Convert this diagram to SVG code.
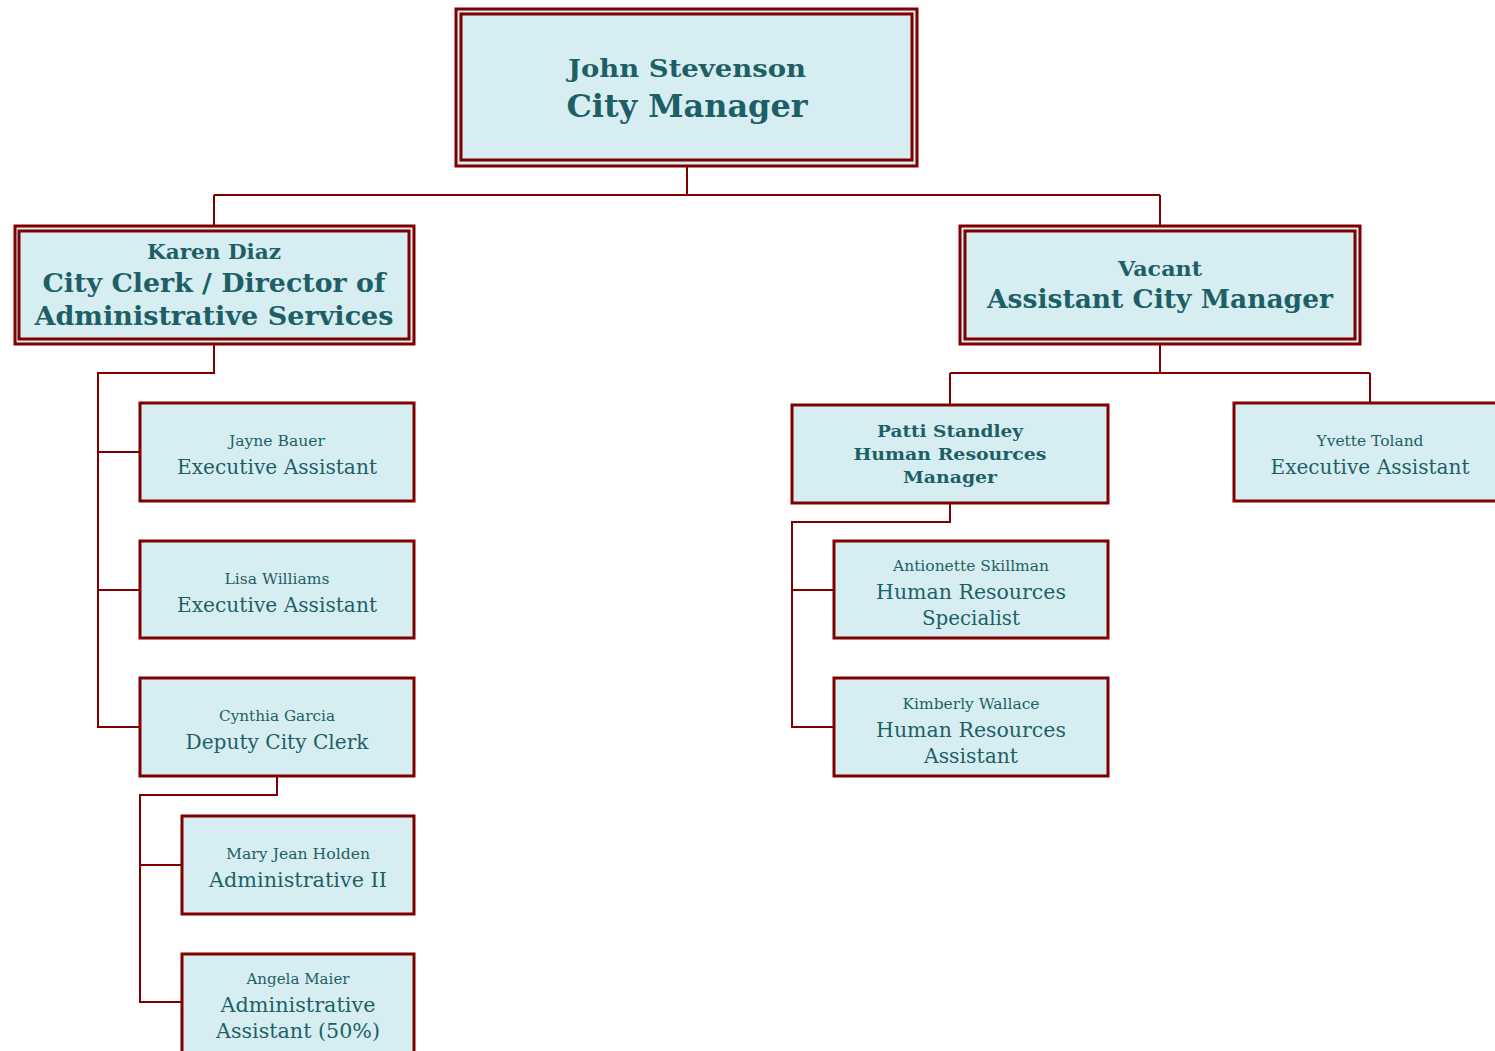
<svg xmlns="http://www.w3.org/2000/svg" width="1495" height="1051" viewBox="0 0 1495 1051">
<style>
.box{fill:#D6EEF2;stroke:#800000;stroke-width:3}
.line{fill:none;stroke:#800000;stroke-width:2}
text{font-family:"DejaVu Serif","Liberation Serif",serif;fill:#1E5F66;text-anchor:middle}
.b{font-weight:bold}
</style>
<rect width="1495" height="1051" fill="#ffffff"/>
<g id="connectors">
<path class="line" d="M687,166 V195 M214,195 H1160 M214,195 V226 M1160,195 V226"/>
<path class="line" d="M214,344 V373 H98 V727 H140 M98,452 H140 M98,590 H140"/>
<path class="line" d="M277,776 V795 H140 V1002 H182 M140,865 H182"/>
<path class="line" d="M1160,344 V373 M950,373 H1370 M950,373 V405 M1370,373 V402"/>
<path class="line" d="M950,503 V522 H792 V727 H834 M792,590 H834"/>
</g>
<g id="n-john">
<rect class="box" x="456" y="9" width="461" height="157"/>
<rect class="box" x="461" y="14" width="451" height="146"/>
<text class="b" x="687" y="77" font-size="25" textLength="238" lengthAdjust="spacingAndGlyphs">John Stevenson</text>
<text class="b" x="687" y="117" font-size="31" textLength="241" lengthAdjust="spacingAndGlyphs">City Manager</text>
</g>
<g id="n-karen">
<rect class="box" x="15" y="226" width="399" height="118"/>
<rect class="box" x="19" y="231" width="390" height="108"/>
<text class="b" x="214" y="259" font-size="20" textLength="134" lengthAdjust="spacingAndGlyphs">Karen Diaz</text>
<text class="b" x="214" y="292" font-size="26" textLength="343" lengthAdjust="spacingAndGlyphs">City Clerk / Director of</text>
<text class="b" x="214" y="325" font-size="26" textLength="359" lengthAdjust="spacingAndGlyphs">Administrative Services</text>
</g>
<g id="n-vacant">
<rect class="box" x="960" y="226" width="400" height="118"/>
<rect class="box" x="965" y="231" width="390" height="108"/>
<text class="b" x="1160" y="276" font-size="20" textLength="84" lengthAdjust="spacingAndGlyphs">Vacant</text>
<text class="b" x="1160" y="308" font-size="26" textLength="346" lengthAdjust="spacingAndGlyphs">Assistant City Manager</text>
</g>
<g id="n-jayne">
<rect class="box" x="140" y="403" width="274" height="98"/>
<text x="277" y="446" font-size="15" textLength="96" lengthAdjust="spacingAndGlyphs">Jayne Bauer</text>
<text x="277" y="474" font-size="20" textLength="200" lengthAdjust="spacingAndGlyphs">Executive Assistant</text>
</g>
<g id="n-lisa">
<rect class="box" x="140" y="541" width="274" height="97"/>
<text x="277" y="584" font-size="15" textLength="105" lengthAdjust="spacingAndGlyphs">Lisa Williams</text>
<text x="277" y="612" font-size="20" textLength="200" lengthAdjust="spacingAndGlyphs">Executive Assistant</text>
</g>
<g id="n-cynthia">
<rect class="box" x="140" y="678" width="274" height="98"/>
<text x="277" y="721" font-size="15" textLength="116" lengthAdjust="spacingAndGlyphs">Cynthia Garcia</text>
<text x="277" y="749" font-size="20" textLength="183" lengthAdjust="spacingAndGlyphs">Deputy City Clerk</text>
</g>
<g id="n-mary">
<rect class="box" x="182" y="816" width="232" height="98"/>
<text x="298" y="859" font-size="15" textLength="144" lengthAdjust="spacingAndGlyphs">Mary Jean Holden</text>
<text x="298" y="887" font-size="20" textLength="178" lengthAdjust="spacingAndGlyphs">Administrative II</text>
</g>
<g id="n-angela">
<rect class="box" x="182" y="954" width="232" height="100"/>
<text x="298" y="984" font-size="15" textLength="103" lengthAdjust="spacingAndGlyphs">Angela Maier</text>
<text x="298" y="1012" font-size="20" textLength="155" lengthAdjust="spacingAndGlyphs">Administrative</text>
<text x="298" y="1038" font-size="20" textLength="164" lengthAdjust="spacingAndGlyphs">Assistant (50%)</text>
</g>
<g id="n-patti">
<rect class="box" x="792" y="405" width="316" height="98"/>
<text class="b" x="950" y="437" font-size="17" textLength="146" lengthAdjust="spacingAndGlyphs">Patti Standley</text>
<text class="b" x="950" y="460" font-size="17" textLength="193" lengthAdjust="spacingAndGlyphs">Human Resources</text>
<text class="b" x="950" y="483" font-size="17" textLength="94" lengthAdjust="spacingAndGlyphs">Manager</text>
</g>
<g id="n-yvette">
<rect class="box" x="1234" y="403" width="264" height="98"/>
<text x="1370" y="446" font-size="15" textLength="107" lengthAdjust="spacingAndGlyphs">Yvette Toland</text>
<text x="1370" y="474" font-size="20" textLength="199" lengthAdjust="spacingAndGlyphs">Executive Assistant</text>
</g>
<g id="n-antionette">
<rect class="box" x="834" y="541" width="274" height="97"/>
<text x="971" y="571" font-size="15" textLength="156" lengthAdjust="spacingAndGlyphs">Antionette Skillman</text>
<text x="971" y="599" font-size="20" textLength="190" lengthAdjust="spacingAndGlyphs">Human Resources</text>
<text x="971" y="625" font-size="20" textLength="98" lengthAdjust="spacingAndGlyphs">Specialist</text>
</g>
<g id="n-kimberly">
<rect class="box" x="834" y="678" width="274" height="98"/>
<text x="971" y="709" font-size="15" textLength="137" lengthAdjust="spacingAndGlyphs">Kimberly Wallace</text>
<text x="971" y="737" font-size="20" textLength="190" lengthAdjust="spacingAndGlyphs">Human Resources</text>
<text x="971" y="763" font-size="20" textLength="94" lengthAdjust="spacingAndGlyphs">Assistant</text>
</g>
</svg>
